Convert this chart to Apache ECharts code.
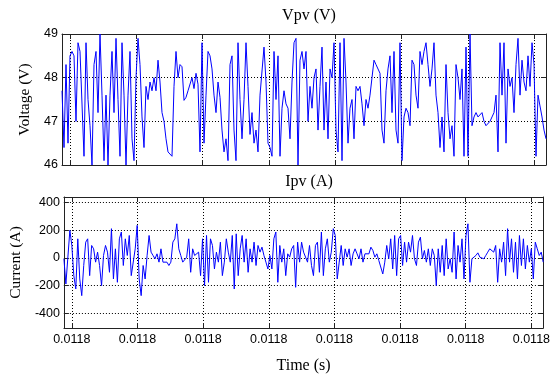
<!DOCTYPE html>
<html>
<head>
<meta charset="utf-8">
<script src="https://cdn.jsdelivr.net/npm/echarts@6/dist/echarts.min.js"></script>
<style>
html,body{margin:0;padding:0;background:#fff;}
#chart{width:553px;height:379px;}
</style>
</head>
<body>
<div id="chart"></div>
<script>
// x tick positions (in tick units) and their printed label
const xTicks = [0, 1, 2, 3, 4, 5, 6, 7];
const xTickLabel = '0.0118';
const tStart = -0.12;
const tEnd = 7.18;

// Vpv (V)
const vpv = [
47.7,46.4,48.3,46.5,48.5,48.6,48.5,47.0,48.8,48.6,
48.6,46.2,48.8,47.5,46.9,46.0,48.3,48.6,47.2,49.0,
47.6,46.1,47.6,46.0,47.6,48.6,47.2,48.9,47.5,46.2,
48.8,47.6,46.0,47.6,48.6,46.6,46.1,48.0,48.9,48.3,
47.1,46.4,47.8,47.5,47.9,47.7,48.0,47.7,48.4,47.9,
47.2,47.0,46.6,46.3,46.3,46.2,47.8,48.6,48.0,48.3,
48.25,47.48,47.55,47.7,47.7,48.0,47.75,48.1,47.85,46.3,48.8,46.5,
47.6,48.6,48.5,48.2,47.6,47.2,47.9,47.55,46.8,46.3,
46.6,46.1,48.3,48.5,46.8,46.1,48.8,47.5,46.6,47.5,
48.8,47.8,46.7,47.2,46.5,46.8,46.3,47.6,47.6,48.7,
47.9,46.5,46.4,46.2,48.6,47.5,48.5,46.2,47.3,47.7,
47.4,47.3,46.6,47.9,48.8,48.9,46.0,48.4,48.6,48.2,
48.6,47.0,47.8,47.3,48.0,48.2,46.8,47.8,48.7,46.8,
47.9,46.6,48.2,48.0,48.8,46.8,46.3,48.8,46.1,48.9,
47.9,46.5,47.3,47.5,46.6,47.8,47.7,47.8,47.4,46.9,
47.5,47.3,47.6,48.0,48.4,48.3,48.3,48.1,46.8,46.5,
47.7,48.2,48.5,47.2,48.6,46.8,46.5,48.8,46.1,47.1,
47.3,47.2,46.9,48.4,48.3,47.6,47.3,48.6,
48.3,48.6,48.8,48.3,47.8,48.2,48.8,47.6,47.2,46.4,
47.1,46.3,48.3,47.2,46.6,46.9,46.2,48.3,48.0,47.5,
48.2,46.2,48.7,46.2,49.0,46.9,47.1,47.2,47.1,47.1,
47.2,47.0,46.9,46.9,47.0,47.1,47.2,47.6,46.3,48.8,
47.6,48.8,46.5,48.2,47.8,48.0,47.2,48.3,48.9,47.6,
48.4,47.9,47.7,48.5,47.8,48.8,48.3,46.2,47.6,47.6,
47.1,46.8,46.6
];

// Ipv (A)
const ipv = [
-7,-188,-188,198,89,-128,-224,137,-152,-272,
-55,113,137,-128,89,65,-31,41,-55,-200,
17,89,41,-104,210,-152,65,-176,137,186,
-55,137,17,161,-128,-140,65,234,-152,-272,
-55,-152,17,161,41,17,-7,29,-31,65,
-31,-43,-31,-55,-31,113,137,245,65,17,
-31,
-31,5,137,-104,65,17,29,41,-128,137,
-200,161,-176,137,89,-80,41,-31,113,-128,
-31,137,41,-31,161,-224,173,-128,65,161,
-31,137,-104,65,-31,113,-55,89,41,77,
17,-31,-80,17,-80,137,186,-176,89,-31,
65,-128,29,5,65,89,-212,113,-31,113,41,
41,-31,89,-55,-128,89,113,-104,186,-128,
65,137,-31,41,210,161,-152,-31,89,-55,
65,5,65,-55,29,65,29,-7,65,-31,
29,17,29,77,53,5,29,-19,-31,-116,
-31,89,-7,137,-80,161,-128,137,161,-55,
113,-31,113,41,161,-7,-55,113,
149,-7,53,-31,65,-55,65,17,-200,65,
-104,89,-128,137,-80,-7,-104,186,-152,89,
-31,137,-152,161,245,-176,-7,5,17,36,
5,17,-7,17,41,65,53,41,89,-176,
65,-31,113,-128,210,-31,137,-104,113,-152,
161,-55,137,-80,89,-31,65,-152,113,65,
17,41,-31
];

// y tick values
const vTicks = [46, 47, 48, 49];
const iTicks = [-400, -200, 0, 200, 400];

function timeOf(i, n) { return tStart + i * (tEnd - tStart) / (n - 1); }
const vData = vpv.map((v, i) => [timeOf(i, vpv.length), v]);
const iData = ipv.map((v, i) => [timeOf(i, ipv.length), v]);

const serif = 'Liberation Serif';
const sans = 'Liberation Sans';
const lineColor = '#222';
const gridLine = { show: true, lineStyle: { color: '#000', width: 1, type: [1, 2] } };

function xAx(gridIndex, pos, showLabels, name) {
  return {
    type: 'value', gridIndex, position: pos, min: tStart, max: tEnd,
    axisLine: { show: true, onZero: false, lineStyle: { color: lineColor, width: 1 } },
    axisTick: { show: true, inside: true, length: 5, customValues: xTicks, lineStyle: { color: lineColor } },
    axisLabel: { show: showLabels, customValues: xTicks, formatter: () => xTickLabel,
      color: '#000', fontFamily: sans, fontSize: 12.5, margin: 5 },
    splitLine: pos === 'bottom' ? Object.assign({ customValues: xTicks }, gridLine) : { show: false },
    name: name || '', nameLocation: 'middle', nameGap: 30,
    nameTextStyle: { fontFamily: serif, fontSize: 16, color: '#000' }
  };
}
function yAx(gridIndex, pos, min, max, ticks, name, gap) {
  return {
    type: 'value', gridIndex, position: pos, min, max,
    axisLine: { show: true, onZero: false, lineStyle: { color: lineColor, width: 1 } },
    axisTick: { show: true, inside: true, length: 5, customValues: ticks, lineStyle: { color: lineColor } },
    axisLabel: { show: pos === 'left', customValues: ticks, color: '#000', fontFamily: sans, fontSize: 12.5, margin: 4 },
    splitLine: pos === 'left' ? Object.assign({ customValues: ticks }, gridLine) : { show: false },
    name: name || '', nameLocation: 'middle', nameGap: gap || 30, nameRotate: 90,
    nameTextStyle: { fontFamily: serif, fontSize: 15.5, color: '#000' }
  };
}

const chart = echarts.init(document.getElementById('chart'), null, { renderer: 'canvas' });
chart.setOption({
  animation: false,
  backgroundColor: '#fff',
  title: [
    { text: 'Vpv (V)', left: 304, top: 3, textAlign: 'center',
      textStyle: { fontFamily: serif, fontSize: 16, fontWeight: 'normal', color: '#000' } },
    { text: 'Ipv (A)', left: 304, top: 169, textAlign: 'center',
      textStyle: { fontFamily: serif, fontSize: 16, fontWeight: 'normal', color: '#000' } }
  ],
  grid: [
    { left: 62, right: 7, top: 34, height: 131 },
    { left: 62, right: 7, top: 197, height: 131 }
  ],
  xAxis: [
    xAx(0, 'bottom', false),
    xAx(1, 'bottom', true, 'Time (s)'),
    xAx(0, 'top', false),
    xAx(1, 'top', false)
  ],
  yAxis: [
    yAx(0, 'left', 46, 49, vTicks, 'Voltage (V)', 29),
    yAx(1, 'left', -505, 438, iTicks, 'Current (A)', 39),
    yAx(0, 'right', 46, 49, vTicks),
    yAx(1, 'right', -505, 438, iTicks)
  ],
  series: [
    { type: 'line', xAxisIndex: 0, yAxisIndex: 0, data: vData, showSymbol: false,
      lineStyle: { color: '#0000ff', width: 1 }, clip: true },
    { type: 'line', xAxisIndex: 1, yAxisIndex: 1, data: iData, showSymbol: false,
      lineStyle: { color: '#0000ff', width: 1 }, clip: true }
  ]
});
</script>
</body>
</html>
